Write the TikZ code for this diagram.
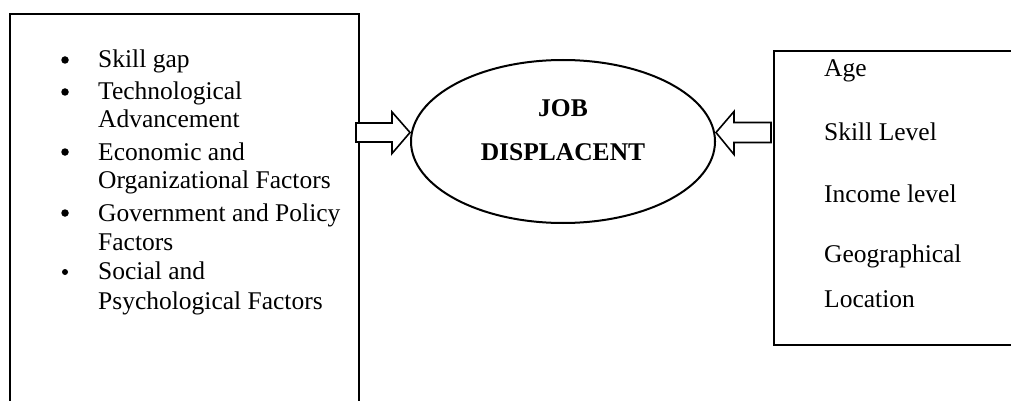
\documentclass[tikz,border=0pt]{standalone}
\usepackage{fontspec}
\setmainfont{Liberation Serif}
\usetikzlibrary{shapes.geometric}
\begin{document}
\begin{tikzpicture}[x=1pt,y=-1pt,
  frame/.style={line width=2pt,line join=miter},
  txt/.style={anchor=base west,inner sep=0pt,font=\fontsize{25.5}{30}\selectfont},
  bul/.style={circle,fill=black,inner sep=0pt,minimum size=7.5pt},
  blockarrow/.style={draw,line width=1.6pt,fill=white,line join=miter}]
\useasboundingbox (0,0) rectangle (1011,401);
% left box (open at the bottom of the picture)
\draw[frame] (10,403) -- (10,14) -- (359,14) -- (359,403);
% right box (open at the right of the picture)
\draw[frame] (1013,51) -- (774,51) -- (774,345) -- (1013,345);
\coordinate (lbox) at (356,132.5);
\coordinate (rbox) at (771,132.5);
% left list
\node[txt] (l1) at (98,68) {Skill gap};
\node[txt] (l2) at (98,100) {Technological};
\node[txt] (l3) at (98,128) {Advancement};
\node[txt] (l4) at (98,160) {Economic and};
\node[txt] (l5) at (98,188) {Organizational Factors};
\node[txt] (l6) at (98,221) {Government and Policy};
\node[txt] (l7) at (98,250) {Factors};
\node[txt] (l8) at (98,279) {Social and};
\node[txt] (l9) at (98,309) {Psychological Factors};
\node[bul] (b1) at (65,60) {};
\node[bul] (b2) at (65,92) {};
\node[bul] (b4) at (65,152) {};
\node[bul] (b6) at (65,213) {};
\node[bul,minimum size=6pt] (b8) at (65,272) {};
% right list
\node[txt] (r1) at (824,77) {Age};
\node[txt] (r2) at (824,140) {Skill Level};
\node[txt] (r3) at (824,202) {Income level};
\node[txt] (r4) at (824,262) {Geographical};
\node[txt] (r5) at (824,307) {Location};
% ellipse
\node[ellipse,draw,line width=2pt,minimum width=304pt,minimum height=163pt,inner sep=0pt] (job) at (563,141.5) {};
\node[inner sep=0pt,anchor=base,font=\fontsize{25.5}{30}\selectfont\bfseries] (t1) at (563,117) {JOB};
\node[inner sep=0pt,anchor=base,font=\fontsize{25.5}{30}\selectfont\bfseries] (t2) at (563,160) {DISPLACENT};
% block arrows
\draw[blockarrow] (lbox) ++(0,-9.5) -- ++(36,0) -- ++(0,-11) -- (job.west |- lbox) -- (392,153.5) -- ++(0,-11.5) -- ++(-36,0) -- cycle;
\draw[blockarrow] (rbox) ++(0,-10) -- ++(-37,0) -- ++(0,-11) -- (job.east |- rbox) -- (734,154.5) -- ++(0,-12) -- ++(37,0) -- cycle;
\end{tikzpicture}
\end{document}
